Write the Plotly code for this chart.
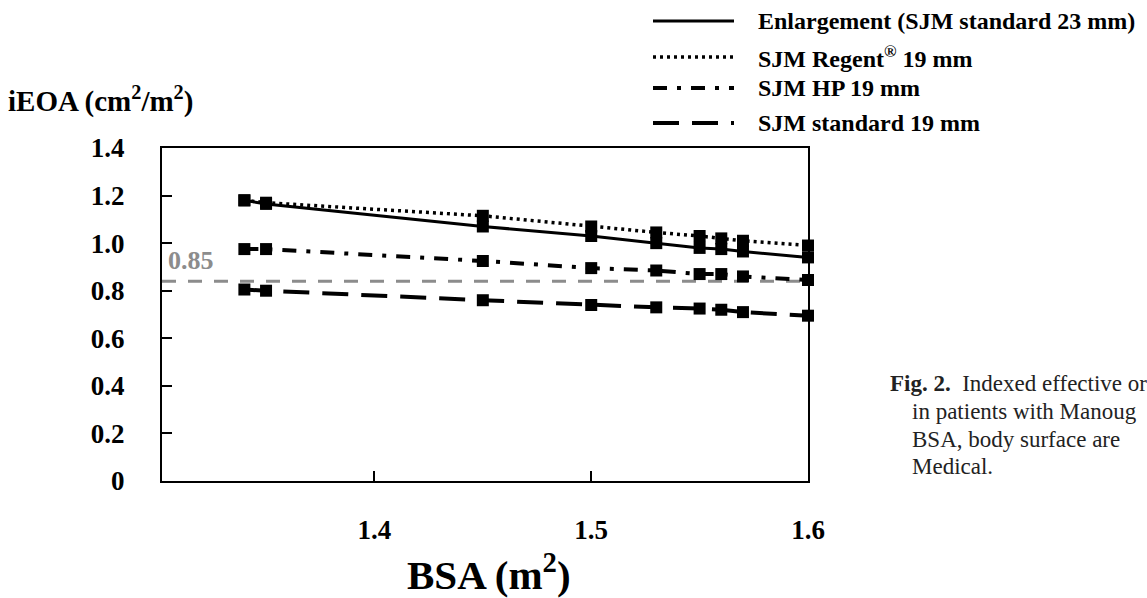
import plotly.graph_objects as go

# ---- data ----
bsa = [1.34, 1.35, 1.45, 1.50, 1.53, 1.55, 1.56, 1.57, 1.60]
enlargement = [1.18, 1.165, 1.07, 1.03, 1.00, 0.98, 0.975, 0.965, 0.94]
regent19 = [1.18, 1.17, 1.115, 1.07, 1.045, 1.03, 1.02, 1.01, 0.99]
hp19 = [0.975, 0.975, 0.925, 0.895, 0.885, 0.87, 0.87, 0.86, 0.845]
standard19 = [0.805, 0.80, 0.76, 0.74, 0.73, 0.725, 0.72, 0.71, 0.695]
series_names = ["Enlargement (SJM standard 23 mm)", "SJM Regent<sup>®</sup> 19 mm",
                "SJM HP 19 mm", "SJM standard 19 mm"]
threshold = 0.84
threshold_label = "0.85"
y_ticks = [0, 0.2, 0.4, 0.6, 0.8, 1.0, 1.2, 1.4]
y_tick_text = ["0", "0.2", "0.4", "0.6", "0.8", "1.0", "1.2", "1.4"]
x_ticks = [1.4, 1.5, 1.6]
x_tick_text = ["1.4", "1.5", "1.6"]
x_range = [1.302, 1.6]
y_range = [0, 1.4]
caption_lines = ["<b>Fig. 2.</b>  Indexed effective or", "in patients with Manoug",
                 "BSA, body surface are", "Medical."]

FONT = "Liberation Serif"
W, H = 1147, 598
L, R, T, B = 162, 808, 148, 481  # plot area pixel box


def px(xp):
    return (xp - L) / (R - L)


def py(yp):
    return (B - yp) / (B - T)


styles = [
    dict(dash="solid", width=3),
    dict(dash="3px,4px", width=3.5),
    dict(dash="14px,10px,4px,10px", width=4),
    dict(dash="26px,13px", width=4),
]
values = [enlargement, regent19, hp19, standard19]

fig = go.Figure()

# threshold line
fig.add_shape(type="line", xref="paper", yref="y", x0=0, x1=1, y0=threshold, y1=threshold,
              line=dict(color="#8c8c8c", width=3, dash="14px,12px"), layer="below")

for name, vals, st in zip(series_names, values, styles):
    fig.add_trace(go.Scatter(
        x=bsa, y=vals, mode="lines+markers", name=name,
        line=dict(color="black", width=st["width"], dash=st["dash"]),
        marker=dict(symbol="square", size=12, color="black"),
        cliponaxis=False, showlegend=False))

fig.update_xaxes(range=x_range, tickvals=x_ticks, ticktext=x_tick_text,
                 showline=True, linecolor="black", linewidth=2, mirror=True,
                 ticks="inside", ticklen=10, tickwidth=2, tickcolor="black",
                 showgrid=False, zeroline=False, ticklabelstandoff=24,
                 tickfont=dict(family=FONT, size=27, color="black", weight="bold"))
fig.update_yaxes(range=y_range, tickvals=y_ticks, ticktext=y_tick_text,
                 showline=True, linecolor="black", linewidth=2, mirror=True,
                 ticks="inside", ticklen=10, tickwidth=2, tickcolor="black",
                 showgrid=False, zeroline=False, ticklabelstandoff=30,
                 tickfont=dict(family=FONT, size=27, color="black", weight="bold"))

annotations = []
# axis titles
annotations.append(dict(text="<b>iEOA (cm<sup>2</sup>/m<sup>2</sup>)</b>", x=px(6), y=py(99),
                        xref="paper", yref="paper", xanchor="left", yanchor="middle",
                        showarrow=False, font=dict(family=FONT, size=29, color="black")))
annotations.append(dict(text="<b>BSA (m<sup>2</sup>)</b>", x=px(489), y=py(572),
                        xref="paper", yref="paper", xanchor="center", yanchor="middle",
                        showarrow=False, font=dict(family=FONT, size=41, color="black")))
# threshold label
annotations.append(dict(text="<b>" + threshold_label + "</b>", x=px(166), y=py(260),
                        xref="paper", yref="paper", xanchor="left", yanchor="middle",
                        showarrow=False, font=dict(family=FONT, size=26, color="#8c8c8c")))

# custom legend
leg_rows = [21, 57, 88, 123]
for name, st, yr in zip(series_names, styles, leg_rows):
    fig.add_shape(type="line", xref="paper", yref="paper", x0=px(653), x1=px(734),
                  y0=py(yr), y1=py(yr),
                  line=dict(color="black", width=st["width"], dash=st["dash"]))
    annotations.append(dict(text="<b>" + name + "</b>", x=px(756), y=py(yr),
                            xref="paper", yref="paper", xanchor="left", yanchor="middle",
                            showarrow=False, font=dict(family=FONT, size=24, color="black")))

# caption (the visible part in the reference)
caption_pos = [(888, 383), (910, 411), (910, 439), (910, 466)]
for txt, (xp, yp) in zip(caption_lines, caption_pos):
    annotations.append(dict(text=txt, x=px(xp), y=py(yp), xref="paper", yref="paper",
                            xanchor="left", yanchor="middle", showarrow=False,
                            font=dict(family=FONT, size=23, color="#222222")))

fig.update_layout(
    width=W, height=H, autosize=False,
    margin=dict(l=L, r=W - R, t=T, b=H - B, pad=0),
    paper_bgcolor="white", plot_bgcolor="white",
    showlegend=False, annotations=annotations,
)

fig.write_html("out.html", config={"displayModeBar": False},
               post_script="document.body.style.margin='0';document.body.style.overflow='hidden';")
